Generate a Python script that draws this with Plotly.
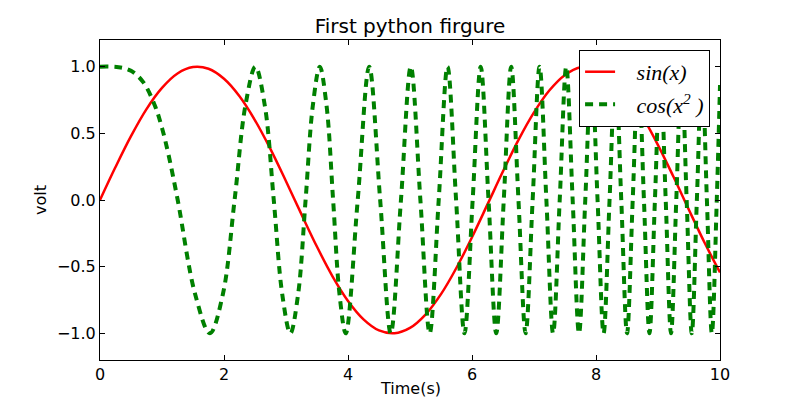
import plotly.graph_objects as go

# sin(x) values
sin_x = [0.0, 0.25, 0.5, 0.75, 1.0, 1.25, 1.5, 1.75, 2.0, 2.25, 2.5, 2.75, 3.0, 3.25,
         3.5, 3.75, 4.0, 4.25, 4.5, 4.75, 5.0, 5.25, 5.5, 5.75, 6.0, 6.25, 6.5, 6.75,
         7.0, 7.25, 7.5, 7.75, 8.0, 8.25, 8.5, 8.75, 9.0, 9.25, 9.5, 9.75, 10.0]
sin_y = [0.0, 0.247, 0.479, 0.682, 0.841, 0.949, 0.997, 0.984, 0.909, 0.778, 0.598,
         0.382, 0.141, -0.108, -0.351, -0.572, -0.757, -0.895, -0.978, -0.999, -0.959,
         -0.859, -0.706, -0.508, -0.279, -0.033, 0.215, 0.451, 0.657, 0.823, 0.938,
         0.996, 0.989, 0.919, 0.798, 0.625, 0.412, 0.174, -0.075, -0.319, -0.544]

# cos(x^2) key points (peaks, troughs, crossings)
cos_x = [0.0, 0.3, 0.5, 0.7, 0.886, 1.0, 1.1, 1.2533, 1.535, 1.7725, 1.9817, 2.1708,
         2.3447, 2.5066, 2.6587, 2.8025, 2.9393, 3.07, 3.1954, 3.316, 3.4324, 3.5449,
         3.654, 3.7599, 3.863, 3.9633,
         4.1568, 4.3416, 4.5189, 4.6895, 4.8541, 5.0133, 5.1676, 5.3174, 5.4631, 5.605,
         5.7434, 5.8785, 6.0107, 6.14, 6.2666, 6.3906, 6.5124, 6.6319, 6.7493, 6.8647,
         6.9782, 7.0898, 7.1997, 7.3079, 7.4147, 7.5199, 7.6236, 7.7258, 7.8269, 7.9267,
         8.0251, 8.1225, 8.2185, 8.3134, 8.4075, 8.5004, 8.5923, 8.6832, 8.7732, 8.8623,
         8.9505, 9.0377, 9.1243, 9.2099, 9.2949, 9.3789, 9.4623, 9.5449, 9.6269, 9.7081,
         9.7887, 9.8686, 9.9479, 10.0]
cos_y = [1.0, 0.996, 0.969, 0.882, 0.707, 0.540, 0.350, 0.0, -0.707, -1.0, -0.707, 0.0,
         0.707, 1.0, 0.707, 0.0, -0.707, -1.0, -0.707, 0.0, 0.707, 1.0,
         0.707, 0.0, -0.707, -1.0,
         0.0, 1.0, 0.0, -1.0, 0.0, 1.0, 0.0, -1.0, 0.0, 1.0,
         0.0, -1.0, 0.0, 1.0, 0.0, -1.0, 0.0, 1.0, 0.0, -1.0,
         0.0, 1.0, 0.0, -1.0, 0.0, 1.0, 0.0, -1.0, 0.0, 1.0,
         0.0, -1.0, 0.0, 1.0, 0.0, -1.0, 0.0, 1.0, 0.0, -1.0,
         0.0, 1.0, 0.0, -1.0, 0.0, 1.0, 0.0, -1.0, 0.0, 1.0,
         0.0, -1.0, 0.0, 0.862]

x_ticks = [0, 2, 4, 6, 8, 10]
y_ticks = [-1.0, -0.5, 0.0, 0.5, 1.0]
y_tick_text = ["\u22121.0", "\u22120.5", "0.0", "0.5", "1.0"]

fig = go.Figure()
fig.add_trace(go.Scatter(
    x=sin_x, y=sin_y, mode="lines", name="&nbsp;&nbsp;&nbsp;<i>sin(x)</i>",
    line=dict(color="#ff0000", width=2.5, shape="spline", smoothing=1.0),
    legendgroup="a"))
fig.add_trace(go.Scatter(
    x=cos_x, y=cos_y, mode="lines", name="&nbsp;&nbsp;&nbsp;<i>cos(x<sup>2</sup> )</i>",
    line=dict(color="#008000", width=4, dash="8px,6px", shape="spline", smoothing=1.0),
    legendgroup="b"))

axis_common = dict(
    showgrid=False, zeroline=False, showline=True, linecolor="black", linewidth=1,
    mirror="ticks", ticks="inside", ticklen=5, tickcolor="black", automargin=False,
    tickfont=dict(family="DejaVu Sans", size=16, color="black"),
)
fig.update_xaxes(range=[0, 10], tickvals=x_ticks, ticktext=[str(t) for t in x_ticks],
                 **axis_common)
fig.update_yaxes(range=[-1.2, 1.2], tickvals=y_ticks, ticktext=y_tick_text,
                 **axis_common)

label_font = dict(family="DejaVu Sans", size=16, color="black")
fig.add_annotation(text="Time(s)", xref="paper", yref="paper", x=0.5, y=-0.09,
                   xanchor="center", yanchor="middle", showarrow=False, font=label_font)
fig.add_annotation(text="volt", xref="paper", yref="paper", x=-0.0968, y=0.5,
                   xanchor="center", yanchor="middle", showarrow=False, textangle=-90,
                   font=label_font)

fig.update_layout(
    width=800, height=400,
    margin=dict(l=100, r=80, t=40, b=40),
    paper_bgcolor="white", plot_bgcolor="white",
    title=dict(text="First python firgure", x=0.5125, xanchor="center", y=0.935, yanchor="middle",
               font=dict(family="DejaVu Sans", size=20, color="black")),
    legend=dict(x=0.984, y=0.969, xanchor="right", yanchor="top",
                bordercolor="black", borderwidth=1, bgcolor="white",
                font=dict(family="Liberation Serif", size=22, color="black"),
                tracegroupgap=1, itemwidth=30),
    showlegend=True,
)

fig.write_html("out.html")
